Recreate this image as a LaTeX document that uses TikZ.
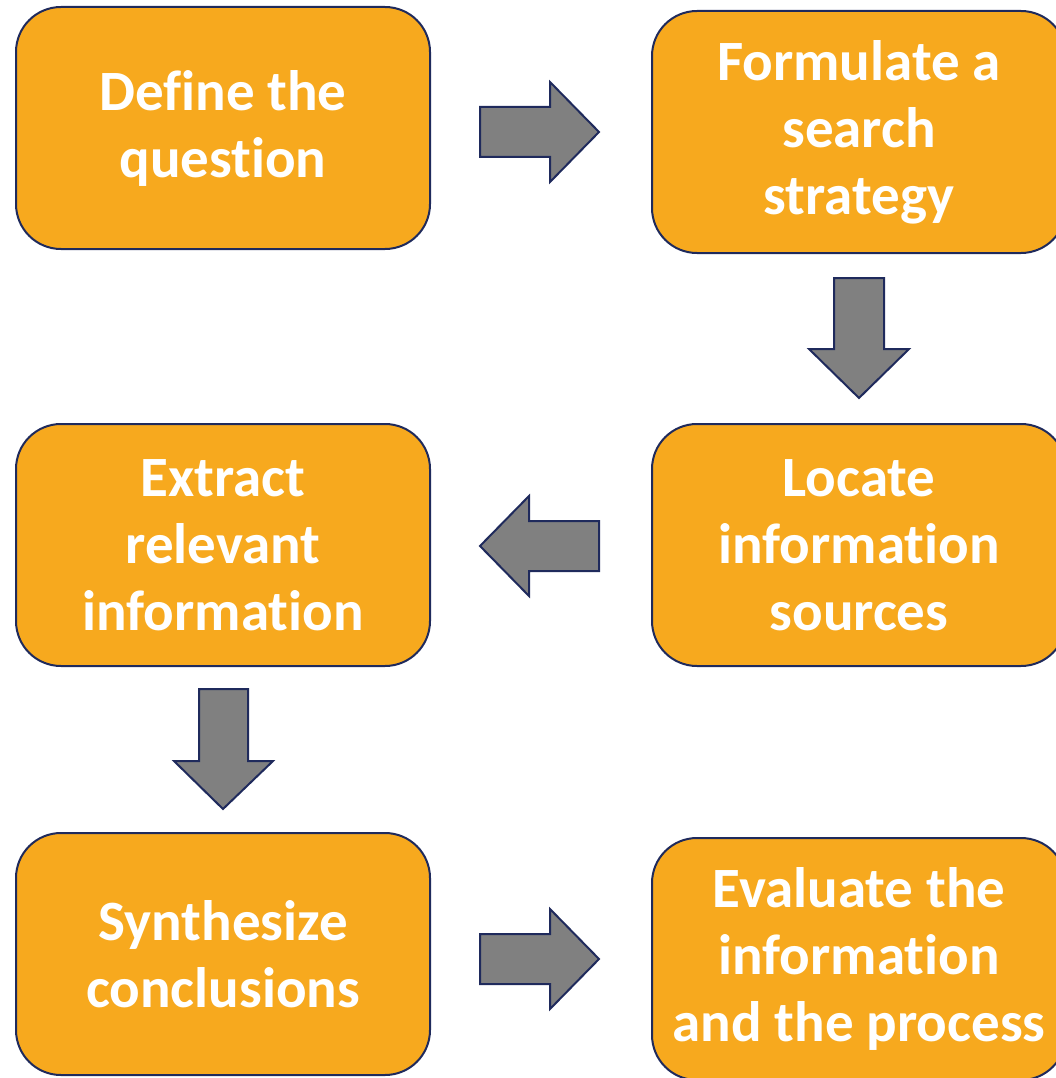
\documentclass[tikz,border=0pt]{standalone}
\usepackage{fontspec}
\setmainfont{Carlito}[Ligatures=CommonOff]
\definecolor{boxfill}{HTML}{F7A91E}
\definecolor{navy}{HTML}{1F2A5C}
\definecolor{arrowgray}{HTML}{808080}
\begin{document}
\begin{tikzpicture}[x=1pt,y=-1pt,
  stepbox/.style={draw=navy, line width=2pt, fill=boxfill, rounded corners=45pt,
    minimum width=414pt, minimum height=242pt, inner sep=0pt, align=center,
    text=white, font=\fontsize{57}{67}\selectfont\bfseries},
  blockarrow/.style={draw=navy, line width=2pt, fill=arrowgray, line join=miter}]
\useasboundingbox (0,0) rectangle (1056,1078);
\node[stepbox] (define) at (223,128) {Define the\\question};
\node[stepbox] (formulate) at (859,132) {Formulate a\\search\\strategy};
\node[stepbox] (locate) at (859,545) {Locate\\information\\sources};
\node[stepbox] (extract) at (223,545) {Extract\\relevant\\information};
\node[stepbox] (synth) at (223,954) {Synthesize\\conclusions};
\node[stepbox] (evaluate) at (859,959) {Evaluate the\\information\\and the process};
% right arrow 1
\draw[blockarrow] (480,107) -- (550,107) -- (550,82) -- (599,132) -- (550,182) -- (550,157) -- (480,157) -- cycle;
% down arrow 1
\draw[blockarrow] (834,278) -- (884,278) -- (884,349) -- (909,349) -- (859,398) -- (809,349) -- (834,349) -- cycle;
% left arrow
\draw[blockarrow] (599,521) -- (529,521) -- (529,496) -- (480,546) -- (529,596) -- (529,571) -- (599,571) -- cycle;
% down arrow 2
\draw[blockarrow] (199,689) -- (248,689) -- (248,761) -- (273,761) -- (223,809) -- (174,761) -- (199,761) -- cycle;
% right arrow 2
\draw[blockarrow] (480,934) -- (550,934) -- (550,909) -- (599,959) -- (550,1009) -- (550,984) -- (480,984) -- cycle;
\end{tikzpicture}
\end{document}
